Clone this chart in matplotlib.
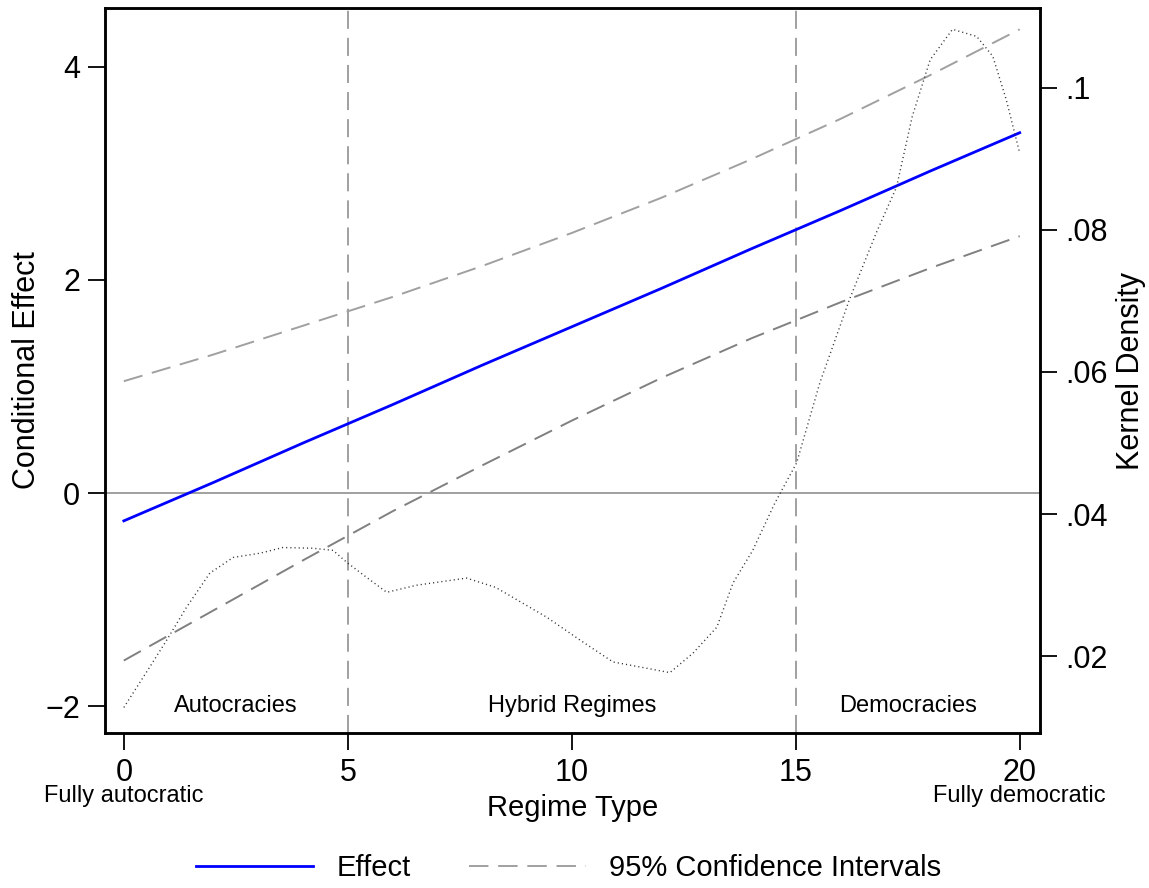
import matplotlib
matplotlib.use("Agg")
import matplotlib.pyplot as plt
import numpy as np
from matplotlib.lines import Line2D

plt.rcParams['font.family'] = ['Liberation Sans', 'DejaVu Sans']

# marginal effect of regime type with 95% bounds
regime = [0, 2, 4, 6, 8, 10, 12, 14, 16, 18, 20]
effect = [-0.26, 0.10, 0.47, 0.83, 1.20, 1.56, 1.92, 2.29, 2.65, 3.02, 3.38]
ci_upper = [1.05, 1.30, 1.57, 1.84, 2.13, 2.44, 2.77, 3.13, 3.51, 3.92, 4.35]
ci_lower = [-1.57, -1.10, -0.63, -0.17, 0.26, 0.68, 1.08, 1.45, 1.79, 2.11, 2.41]

# kernel density of regime type (right axis)
kd_x = [0.0, 0.58, 0.96, 1.4, 1.92, 2.44, 3.04, 3.55, 4.22, 4.67, 4.98, 5.42,
        5.87, 6.54, 7.65, 8.3, 8.68, 9.44, 10.18, 10.92, 11.52, 12.19, 12.7,
        13.24, 13.6, 14.04, 14.53, 15.02, 15.54, 16.2, 16.8, 17.25, 17.6, 18.0,
        18.5, 19.04, 19.4, 19.7, 20.0]
kd_y = [0.0128, 0.0185, 0.0223, 0.0269, 0.0317, 0.0339, 0.0345, 0.0353, 0.0352,
        0.0349, 0.0332, 0.0311, 0.0290, 0.0300, 0.0310, 0.0297, 0.0283, 0.0255,
        0.0223, 0.0192, 0.0185, 0.0177, 0.0204, 0.0241, 0.0303, 0.0349, 0.0415,
        0.0472, 0.0585, 0.0702, 0.0796, 0.0860, 0.0959, 0.1039, 0.1082, 0.1072,
        0.1044, 0.0983, 0.0908]

regime_bounds = [5, 15]
region_labels = ['Autocracies', 'Hybrid Regimes', 'Democracies']
region_pos = [2.5, 10, 17.5]

fig = plt.figure(figsize=(11.49, 8.88), dpi=100)
ax = fig.add_axes([0.0914, 0.1745, 0.8136, 0.8165])
ax2 = ax.twinx()

ax.axhline(0, color='#999999', lw=1.3, zorder=1)
for b in regime_bounds:
    ax.axvline(b, color='#999999', lw=1.3, ls=(0, (10, 5)), zorder=1)

ax.plot(regime, ci_upper, color='#a0a0a0', lw=1.4, ls=(0, (10, 5)), zorder=2)
ax.plot(regime, ci_lower, color='#808080', lw=1.4, ls=(0, (10, 5)), zorder=2)
ax.plot(regime, effect, color='#0000ff', lw=2.0, zorder=3)

ax2.plot(kd_x, kd_y, color='#333333', lw=1.0, ls=(0, (0.8, 2.2)))

for name, xp in zip(region_labels, region_pos):
    ax.text(xp, -2.0, name, ha='center', va='center', fontsize=17)

ax.set_xlim(-0.42, 20.45)
ax.set_ylim(-2.25, 4.55)
ax2.set_ylim(0.0092, 0.1112)

ax.set_xticks([0, 5, 10, 15, 20])
ax.set_yticks([-2, 0, 2, 4])
ax.set_yticklabels(['\u22122', '0', '2', '4'])
ax2.set_yticks([0.02, 0.04, 0.06, 0.08, 0.1])
ax2.set_yticklabels(['.02', '.04', '.06', '.08', '.1'])

for a in (ax, ax2):
    a.tick_params(axis='both', direction='out', length=12, width=1.3,
                  labelsize=22, pad=6)
    for s in a.spines.values():
        s.set_linewidth(1.8)

ax.set_ylabel('Conditional Effect', fontsize=22, labelpad=2)
ax2.set_ylabel('Kernel Density', fontsize=22, labelpad=6)
ax.set_xlabel('Regime Type', fontsize=21, labelpad=4)

ax.text(0, -0.087, 'Fully autocratic', transform=ax.get_xaxis_transform(),
        ha='center', va='center', fontsize=17)
ax.text(20, -0.087, 'Fully democratic', transform=ax.get_xaxis_transform(),
        ha='center', va='center', fontsize=17)

handles = [Line2D([], [], color='#0000ff', lw=2.0),
           Line2D([], [], color='#a0a0a0', lw=1.4, ls=(0, (10, 5)))]
fig.legend(handles, ['Effect', '95% Confidence Intervals'], loc='center',
           bbox_to_anchor=(0.495, 0.022), ncol=2, frameon=False, fontsize=21,
           handlelength=4.0, columnspacing=2.0, handletextpad=0.8)

fig.savefig('out.png', dpi=100)
